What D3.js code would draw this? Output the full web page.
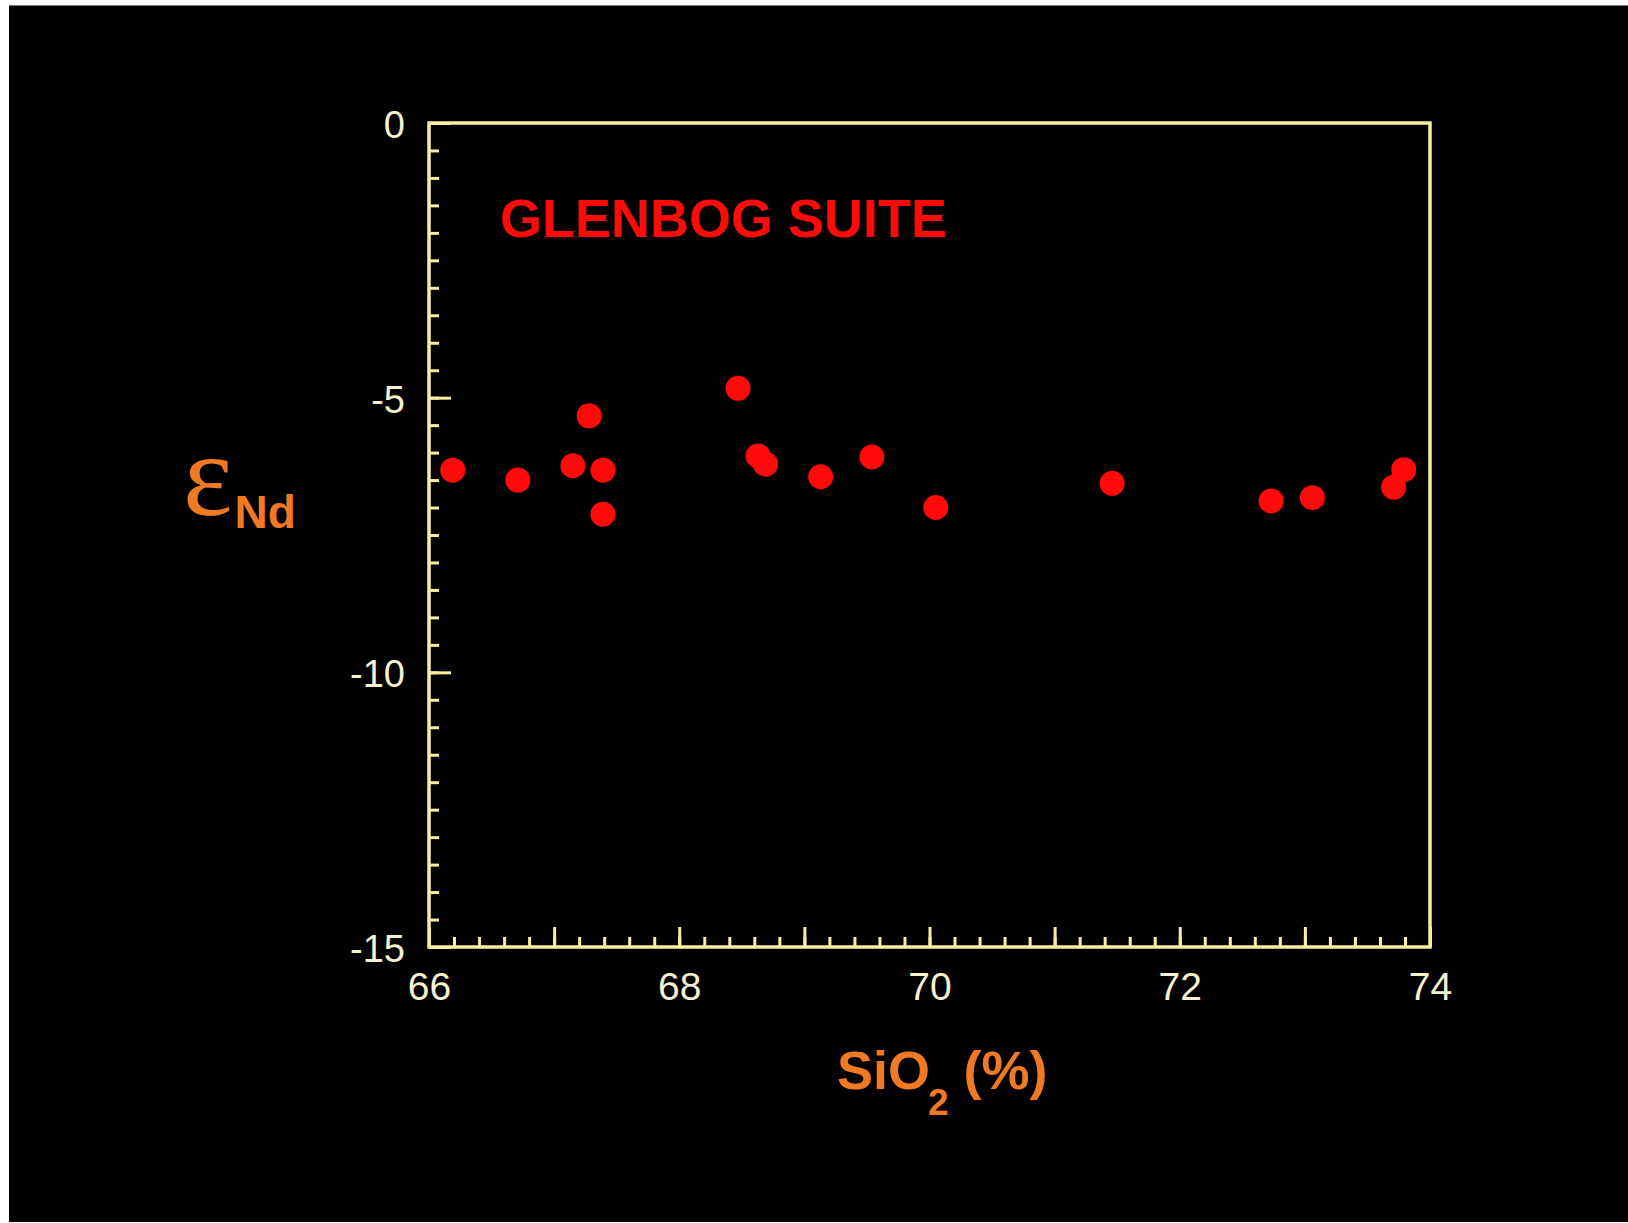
<!DOCTYPE html>
<html>
<head>
<meta charset="utf-8">
<script src="https://cdn.jsdelivr.net/npm/d3@7"></script>
<style>
  html, body { margin: 0; padding: 0; background: #ffffff; }
  svg { display: block; }
</style>
</head>
<body>
<svg id="chart" width="1628" height="1223"></svg>
<script>
// Glenbog Suite samples: SiO2 (wt %) vs epsilon-Nd
const sio2 = [66.19, 66.71, 67.15, 67.28, 67.39, 67.39, 68.47, 68.63, 68.69, 69.13, 69.54, 70.05, 71.46, 72.73, 73.06, 73.71, 73.79];
const epsNd = [-6.32, -6.50, -6.24, -5.33, -6.32, -7.12, -4.83, -6.06, -6.21, -6.44, -6.08, -7.00, -6.56, -6.88, -6.82, -6.63, -6.31];

const xDomain = [66, 74];
const yDomain = [-15, 0];
const xLabelTicks = [66, 68, 70, 72, 74];
const yLabelTicks = [0, -5, -10, -15];
const xMajorTicks = [66, 67, 68, 69, 70, 71, 72, 73, 74];

const titleText = "GLENBOG SUITE";

const axisColor = "#f7eea0";
const labelColor = "#f6f1cf";
const orange = "#f07a24";
const red = "#ff0a0a";

// plain hyphen-minus for negative tick labels
const fmt = d => String(d);

const svg = d3.select("#chart");

// slide background
svg.append("rect")
  .attr("x", 9).attr("y", 6)
  .attr("width", 1628 - 9).attr("height", 1222 - 6)
  .attr("fill", "#000000");
svg.append("line")
  .attr("x1", 9).attr("x2", 1628).attr("y1", 5.5).attr("y2", 5.5)
  .attr("stroke", "#777").attr("stroke-width", 1);

const plot = { left: 429, right: 1430, top: 123, bottom: 947 };

const x = d3.scaleLinear().domain(xDomain).range([plot.left, plot.right]);
const y = d3.scaleLinear().domain(yDomain).range([plot.bottom, plot.top]);

const g = svg.append("g");

// minor ticks (inward)
const xMinor = d3.range(0, 41).map(i => 66 + i * 0.2);
const yMinor = d3.range(0, 31).map(i => -15 + i * 0.5);

function styleAxis(sel) {
  sel.select(".domain").remove();
  sel.selectAll(".tick line").attr("stroke", axisColor).attr("stroke-width", 3);
}

g.append("g")
  .attr("transform", `translate(0,${plot.bottom})`)
  .call(d3.axisBottom(x).tickValues(xMinor).tickSize(-10).tickFormat(""))
  .call(styleAxis);
g.append("g")
  .attr("transform", `translate(0,${plot.bottom})`)
  .call(d3.axisBottom(x).tickValues(xMajorTicks).tickSize(-20).tickFormat(""))
  .call(styleAxis);

g.append("g")
  .attr("transform", `translate(${plot.left},0)`)
  .call(d3.axisLeft(y).tickValues(yMinor).tickSize(-10).tickFormat(""))
  .call(styleAxis);
g.append("g")
  .attr("transform", `translate(${plot.left},0)`)
  .call(d3.axisLeft(y).tickValues(yLabelTicks).tickSize(-22).tickFormat(""))
  .call(styleAxis);

// tick labels
const xLab = g.append("g")
  .attr("transform", `translate(0,${plot.bottom})`)
  .call(d3.axisBottom(x).tickValues(xLabelTicks).tickSize(0).tickPadding(0).tickFormat(fmt));
xLab.select(".domain").remove();
xLab.selectAll("text")
  .attr("y", 53).attr("dy", null)
  .attr("fill", labelColor)
  .style("font-family", "'Liberation Sans', Arial, sans-serif")
  .style("font-size", "39px");

const yLab = g.append("g")
  .attr("transform", `translate(${plot.left},0)`)
  .call(d3.axisLeft(y).tickValues(yLabelTicks).tickSize(0).tickPadding(0).tickFormat(fmt));
yLab.select(".domain").remove();
yLab.selectAll("text")
  .attr("x", -24).attr("dy", "0.38em")
  .attr("fill", labelColor)
  .attr("text-anchor", "end")
  .style("font-family", "'Liberation Sans', Arial, sans-serif")
  .style("font-size", "38px");

// frame
g.append("rect")
  .attr("x", plot.left).attr("y", plot.top)
  .attr("width", plot.right - plot.left)
  .attr("height", plot.bottom - plot.top)
  .attr("fill", "none")
  .attr("stroke", axisColor)
  .attr("stroke-width", 3.5);

// data points
g.append("g")
  .selectAll("circle")
  .data(sio2.map((v, i) => [v, epsNd[i]]))
  .join("circle")
  .attr("cx", d => x(d[0]))
  .attr("cy", d => y(d[1]))
  .attr("r", 12.5)
  .attr("fill", red);

// suite name
svg.append("text")
  .attr("x", 500).attr("y", 237)
  .attr("fill", red)
  .style("font-family", "'Liberation Sans', Arial, sans-serif")
  .style("font-weight", "bold")
  .style("font-size", "54px")
  .text(titleText);

// y-axis title: epsilon Nd
const yt = svg.append("text")
  .attr("x", 183).attr("y", 515)
  .attr("fill", orange);
yt.append("tspan")
  .style("font-family", "'Liberation Serif', 'Times New Roman', serif")
  .style("font-size", "118px")
  .text("ε");
yt.append("tspan")
  .attr("dy", 13).attr("dx", 2)
  .style("font-family", "'Liberation Sans', Arial, sans-serif")
  .style("font-weight", "bold")
  .style("font-size", "46px")
  .text("Nd");

// x-axis title: SiO2 (%)
const xt = svg.append("text")
  .attr("x", 837).attr("y", 1089)
  .attr("fill", orange)
  .style("font-family", "'Liberation Sans', Arial, sans-serif")
  .style("font-weight", "bold")
  .style("font-size", "54px");
xt.append("tspan").text("SiO");
xt.append("tspan")
  .attr("dy", 26).attr("dx", -2)
  .style("font-size", "37px")
  .text("2");
xt.append("tspan")
  .attr("dy", -26).attr("dx", 0)
  .text(" (%)");
</script>
</body>
</html>
